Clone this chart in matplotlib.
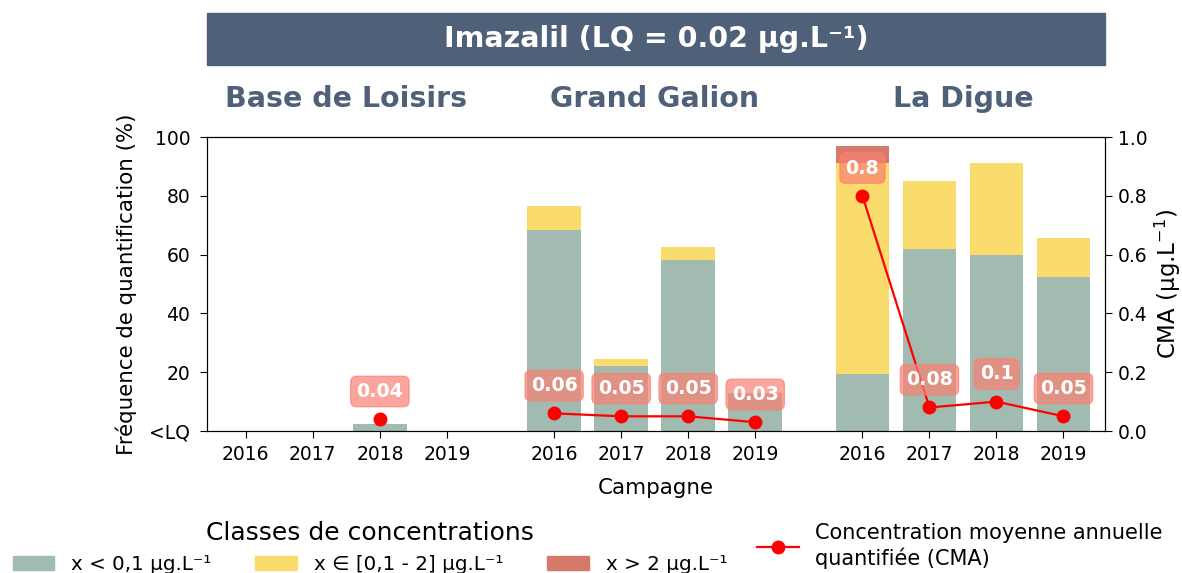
import matplotlib.pyplot as plt
import numpy as np
from matplotlib.patches import Rectangle, Patch
from matplotlib.lines import Line2D

# data
sites = ['Base de Loisirs', 'Grand Galion', 'La Digue']
years = ['2016', '2017', '2018', '2019']
low = [0, 0, 2.5, 0, 68.5, 22, 58, 13, 19.5, 62, 60, 52.5]      # x < 0.1
mid = [0, 0, 0, 0, 8, 2.5, 4.5, 0, 71.5, 23, 31, 13]            # 0.1 - 2
high = [0, 0, 0, 0, 0, 0, 0, 0, 6, 0, 0, 0]                     # > 2
cma = [np.nan, np.nan, 0.04, np.nan, 0.06, 0.05, 0.05, 0.03, 0.8, 0.08, 0.1, 0.05]

c_low = '#a2bbb0'
c_mid = '#f9dc6c'
c_high = '#d57a68'
c_head = '#4f6079'

gap = 0.6
pos = np.array([s * (len(years) + gap) + y for s in range(len(sites)) for y in range(len(years))])

fig = plt.figure(figsize=(11.82, 5.73), dpi=100)
ax = fig.add_axes([0.1751, 0.2478, 0.7598, 0.5131])
ax2 = ax.twinx()

low = np.array(low); mid = np.array(mid); high = np.array(high)
ax.bar(pos, low, width=0.8, color=c_low)
ax.bar(pos, mid, width=0.8, bottom=low, color=c_mid)
ax.bar(pos, high, width=0.8, bottom=low + mid, color=c_high)

ax.set_xlim(-0.58, pos[-1] + 0.62)
ax.set_ylim(0, 100)
ax.set_yticks([0, 20, 40, 60, 80, 100])
ax.set_yticklabels(['<LQ', '20', '40', '60', '80', '100'])
ax.set_xticks(pos)
ax.set_xticklabels(years * len(sites))
ax.tick_params(labelsize=13.5, length=5, pad=5)
ax.tick_params(axis='y', pad=7)
ax.set_ylabel('Fréquence de quantification (%)', fontsize=15.4, labelpad=9)
ax.set_xlabel('Campagne', fontsize=15.4, labelpad=10)

cma = np.array(cma)
n = len(years)
for s in range(len(sites)):
    xs = pos[s * n:(s + 1) * n]
    ys = cma[s * n:(s + 1) * n]
    ax2.plot(xs, ys, 'o-', color='red', lw=1.6, ms=9)
    for x, y in zip(xs, ys):
        if np.isnan(y):
            continue
        ax2.annotate(f'{y:g}', (x, y), xytext=(0, 20), textcoords='offset points',
                     ha='center', va='center', color='white', fontsize=13.7, fontweight='bold',
                     bbox=dict(boxstyle='round,pad=0.3', fc='salmon', ec='salmon', alpha=0.7))
ax2.set_ylim(0, 1)
ax2.set_yticks([0, 0.2, 0.4, 0.6, 0.8, 1.0])
ax2.tick_params(labelsize=13.5, length=5, pad=4)
ax2.set_ylabel('CMA (µg.L$^{-1}$)', fontsize=16.5, labelpad=4)

# site headers
for s, name in enumerate(sites):
    xc = pos[s * n:(s + 1) * n].mean()
    ax.text(xc, 1.13, name, transform=ax.get_xaxis_transform(), ha='center', va='center',
            fontsize=20.5, fontweight='bold', color=c_head)

# title band
fig.patches.append(Rectangle((0.1751, 0.887), 0.7598, 0.090, transform=fig.transFigure,
                             color=c_head, zorder=0))
fig.text(0.555, 0.932, 'Imazalil (LQ = 0.02 µg.L⁻¹)', ha='center', va='center',
         fontsize=20.5, fontweight='bold', color='white')

handles = [Patch(color=c_low, label='x < 0,1 µg.L⁻¹'),
           Patch(color=c_mid, label='x ∈ [0,1 - 2] µg.L⁻¹'),
           Patch(color=c_high, label='x > 2 µg.L⁻¹')]
fig.legend(handles=handles, ncol=3, loc='upper center', bbox_to_anchor=(0.313, 0.122),
           frameon=False, fontsize=14.3, title='Classes de concentrations', title_fontsize=18,
           handlelength=2.1, columnspacing=2.2, handletextpad=0.85)
leg2 = fig.legend(handles=[Line2D([], [], color='red', marker='o', lw=1.6, ms=9)],
                  labels=['Concentration moyenne annuelle\nquantifiée (CMA)'],
                  loc='center left', bbox_to_anchor=(0.6246, 0.047), frameon=False, fontsize=15,
                  handlelength=2.0)
leg2.get_texts()[0].set_linespacing(1.3)

fig.savefig('out.png', dpi=100)
